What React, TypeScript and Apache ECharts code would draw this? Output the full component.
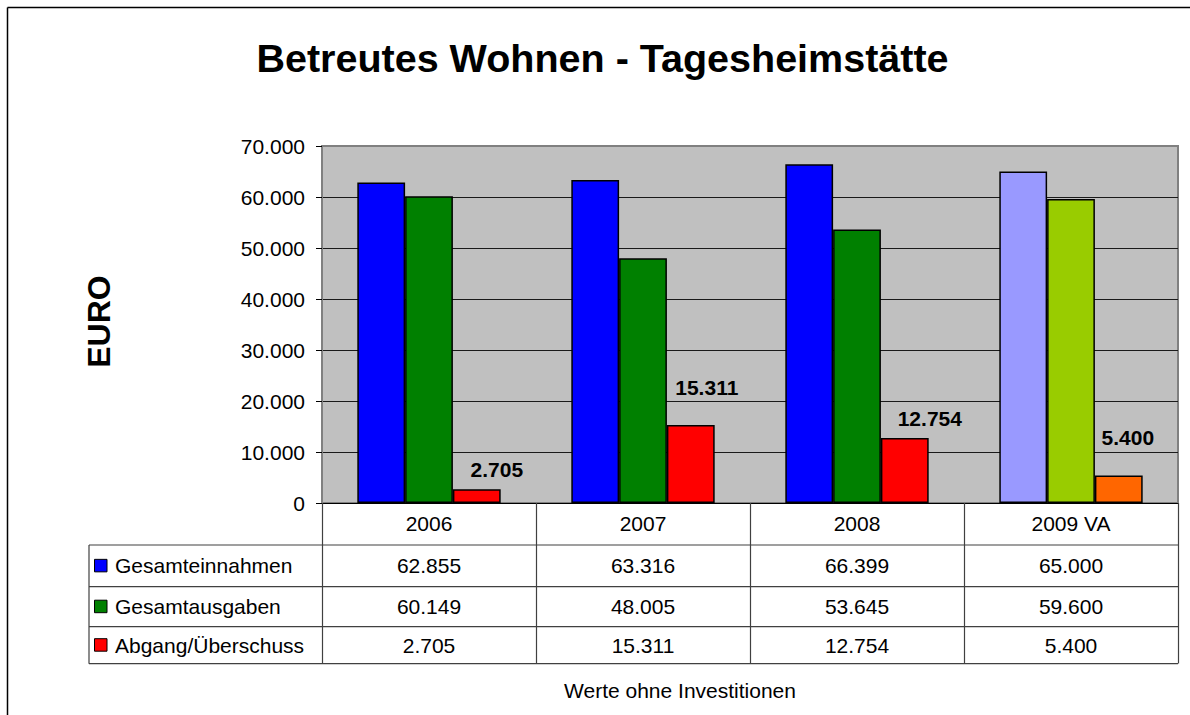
import React, { useEffect, useRef } from 'react';
import * as echarts from 'echarts';

const categories = ['2006', '2007', '2008', '2009 VA'];
const seriesNames = ['Gesamteinnahmen', 'Gesamtausgaben', 'Abgang/Überschuss'];
const gesamteinnahmen = [62855, 63316, 66399, 65000];
const gesamtausgaben = [60149, 48005, 53645, 59600];
const abgangUeberschuss = [2705, 15311, 12754, 5400];
const yMin = 0;
const yMax = 70000;
const yInterval = 10000;
const titleText = 'Betreutes Wohnen - Tagesheimstätte';
const yAxisTitle = 'EURO';
const footnote = 'Werte ohne Investitionen';

const FONT = '"Liberation Sans", Arial, Helvetica, sans-serif';
const fmt = (v: number) => String(v).replace(/\B(?=(\d{3})+(?!\d))/g, '.');

export default function App() {
  const ref = useRef<HTMLDivElement>(null);

  useEffect(() => {
    document.body.style.margin = '0';
    document.documentElement.style.overflow = 'hidden';
    const chart = echarts.init(ref.current!, null, { renderer: 'svg' });
    const values = [gesamteinnahmen, gesamtausgaben, abgangUeberschuss];
    const colors = ['#0000FF', '#008000', '#FF0000'];
    const forecastColors = ['#9999FF', '#99CC00', '#FF6600'];
    const labelShift = [[20, -4], [16, -22], [25, -4], [9, -22]];
    const lastIdx = categories.length - 1;

    const series = values.map((vals, s) => ({
      name: seriesNames[s],
      type: 'bar',
      barGap: '0%',
      barCategoryGap: '33%',
      itemStyle: { borderColor: '#000', borderWidth: 1.5 },
      label:
        s === 2
          ? {
              show: true,
              position: 'top',
              fontFamily: FONT,
              fontSize: 21,
              fontWeight: 'bold',
              color: '#000',
              formatter: (p: any) => fmt(p.value),
            }
          : { show: false },
      data: vals.map((v, i) => ({
        value: v,
        itemStyle: { color: i === lastIdx ? forecastColors[s] : colors[s] },
        ...(s === 2 ? { label: { offset: labelShift[i] } } : {}),
      })),
    }));

    chart.setOption({
      animation: false,
      backgroundColor: '#fff',
      grid: {
        left: 322,
        top: 146,
        width: 856,
        height: 357,
        show: true,
        backgroundColor: '#C0C0C0',
        borderColor: '#808080',
        borderWidth: 2,
      },
      xAxis: {
        type: 'category',
        data: categories,
        axisLine: { show: true, lineStyle: { color: '#000', width: 1 } },
        axisTick: { show: true, interval: 0, length: 160.5, lineStyle: { color: '#404040', width: 1.2 } },
        axisLabel: { interval: 0, margin: 10, fontFamily: FONT, fontSize: 21, color: '#000' },
      },
      yAxis: {
        type: 'value',
        min: yMin,
        max: yMax,
        interval: yInterval,
        axisLine: { show: true, lineStyle: { color: '#808080', width: 2 } },
        axisTick: { show: true, inside: false, length: 6, lineStyle: { color: '#000' } },
        axisLabel: { margin: 17, fontFamily: FONT, fontSize: 21, color: '#000', formatter: (v: number) => fmt(v) },
        splitLine: { show: true, showMaxLine: false, lineStyle: { color: '#1a1a1a', width: 1 } },
      },
      series,
    });

    // table below the chart
    const rowLines = [545, 586.7, 626.7, 663.7];
    const tableLeft = 89;
    const tableRight = 1178;
    const graphic: any[] = [];
    graphic.push({
      type: 'line',
      shape: { x1: 7.5, y1: 7.5, x2: 1195, y2: 7.5 },
      style: { stroke: '#000', lineWidth: 1.5 },
    });
    graphic.push({
      type: 'line',
      shape: { x1: 7.5, y1: 7.5, x2: 7.5, y2: 720 },
      style: { stroke: '#000', lineWidth: 1.5 },
    });
    graphic.push({
      type: 'text',
      x: 602.5,
      y: 58,
      style: { text: titleText, align: 'center', verticalAlign: 'middle', font: `bold 39.5px ${FONT}`, fill: '#000' },
    });
    graphic.push({
      type: 'text',
      x: 98.5,
      y: 321.5,
      rotation: Math.PI / 2,
      style: { text: yAxisTitle, align: 'center', verticalAlign: 'middle', font: `bold 32px ${FONT}`, fill: '#000' },
    });
    rowLines.forEach((y) => {
      graphic.push({
        type: 'line',
        shape: { x1: tableLeft, y1: y, x2: tableRight, y2: y },
        style: { stroke: '#404040', lineWidth: 1.2 },
      });
    });
    graphic.push({
      type: 'line',
      shape: { x1: tableLeft, y1: rowLines[0], x2: tableLeft, y2: rowLines[rowLines.length - 1] },
      style: { stroke: '#404040', lineWidth: 1.2 },
    });
    values.forEach((vals, s) => {
      const yc = (rowLines[s] + rowLines[s + 1]) / 2;
      graphic.push({
        type: 'rect',
        shape: { x: 94.5, y: yc - 6.5, width: 12.5, height: 12.5 },
        style: { fill: colors[s], stroke: '#000', lineWidth: 1 },
      });
      graphic.push({
        type: 'text',
        x: 115,
        y: yc,
        style: { text: seriesNames[s], align: 'left', verticalAlign: 'middle', font: `21px ${FONT}`, fill: '#000' },
      });
      vals.forEach((v, i) => {
        const xc = chart.convertToPixel({ xAxisIndex: 0 }, i) as number;
        graphic.push({
          type: 'text',
          x: xc,
          y: yc,
          style: { text: fmt(v), align: 'center', verticalAlign: 'middle', font: `21px ${FONT}`, fill: '#000' },
        });
      });
    });
    graphic.push({
      type: 'text',
      x: 680,
      y: 690,
      style: { text: footnote, align: 'center', verticalAlign: 'middle', font: `21px ${FONT}`, fill: '#000' },
    });

    chart.setOption({ graphic });

    return () => chart.dispose();
  }, []);

  return (
    <div
      ref={ref}
      style={{ position: 'fixed', left: 0, top: 0, width: 1190, height: 715, background: '#fff' }}
    />
  );
}
